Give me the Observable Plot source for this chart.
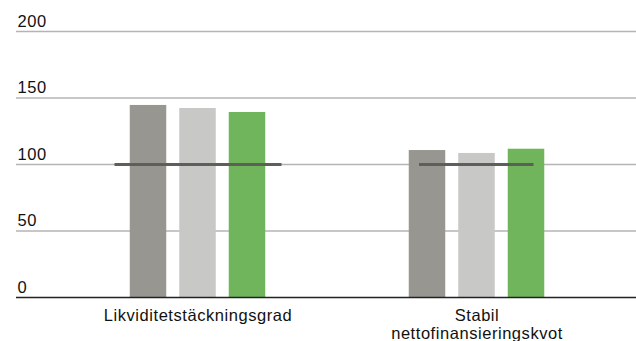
<!DOCTYPE html>
<html>
<head>
<meta charset="utf-8">
<script src="https://cdn.jsdelivr.net/npm/d3@7"></script>
<script src="https://cdn.jsdelivr.net/npm/@observablehq/plot@0.6"></script>
<style>
  html, body { margin: 0; padding: 0; background: #fff; }
  #chart svg { display: block; }
</style>
</head>
<body>
<div id="chart"></div>
<script>
// ---- data ----
const categories = ["Likviditetstäckningsgrad", "Stabil nettofinansieringskvot"];
const categoryLabels = ["Likviditetstäckningsgrad", "Stabil\nnettofinansieringskvot"];
const seriesNames = ["Serie 1", "Serie 2", "Serie 3"];
const seriesColors = ["#979691", "#c8c8c6", "#70b55c"];
const valuesSerie1 = [144.4, 110.5];
const valuesSerie2 = [142.1, 108.3];
const valuesSerie3 = [139.1, 111.5];
const requirement = [100, 100];
const yTicks = [0, 50, 100, 150, 200];

const seriesValues = [valuesSerie1, valuesSerie2, valuesSerie3];
const rows = [];
seriesNames.forEach((s, i) => categories.forEach((c, j) => rows.push({category: c, series: s, value: seriesValues[i][j]})));
const reqRows = categories.map((c, j) => ({category: c, value: requirement[j]}));

const font = "'Liberation Sans', Arial, sans-serif";
const barOffset = 49.5;
const barInset = 121.25;

const plot = Plot.plot({
  width: 636,
  height: 341,
  marginTop: 31,
  marginBottom: 44,
  marginLeft: 16,
  marginRight: 0,
  style: {fontFamily: font, fontSize: "16.5px", letterSpacing: "0.55px", color: "#000", background: "#fff"},
  x: {domain: categories, range: [57, 616], padding: 0},
  y: {domain: [0, 200], range: [297, 31]},
  marks: [
    Plot.ruleY(yTicks.filter(d => d > 0), {stroke: "#b4b4b4", strokeWidth: 1.3}),
    ...seriesNames.map((s, i) => Plot.barY(rows.filter(d => d.series === s), {
      x: "category", y: "value", fill: seriesColors[i],
      dx: (i - 1) * barOffset, insetLeft: barInset, insetRight: barInset
    })),
    Plot.tickY(reqRows.slice(0, 1), {x: "category", y: "value", stroke: "#5e5f59", strokeWidth: 3, insetLeft: 56.5, insetRight: 55.5}),
    Plot.tickY(reqRows.slice(1, 2), {x: "category", y: "value", stroke: "#5e5f59", strokeWidth: 3, insetLeft: 82, insetRight: 82.5}),
    Plot.ruleY([0], {stroke: "#222", strokeWidth: 1.5}),
    Plot.axisY({ticks: yTicks, tickSize: 0, tickPadding: 0, textAnchor: "start", dx: 1, dy: -10, fill: "#111", label: null}),
    Plot.axisX({tickSize: 0, tickPadding: 10, tickFormat: (d) => categoryLabels[categories.indexOf(d)], lineHeight: 1.12, fill: "#111", label: null})
  ]
});
document.getElementById("chart").appendChild(plot);
</script>
</body>
</html>
